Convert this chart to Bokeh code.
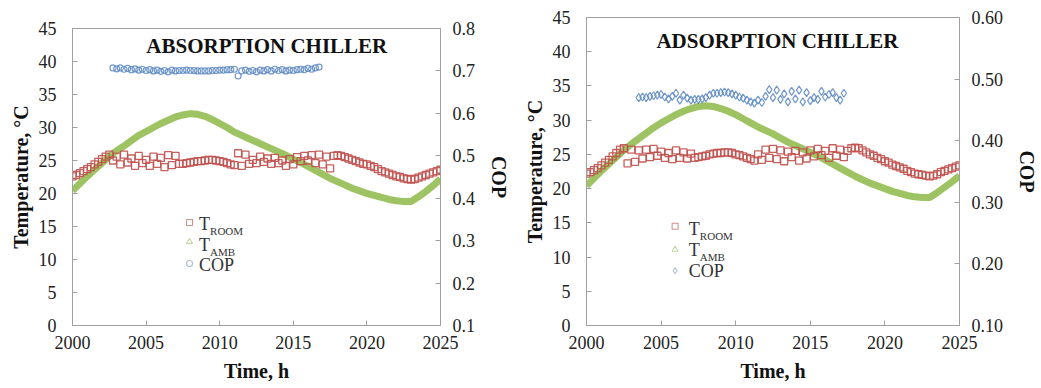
from bokeh.plotting import figure
from bokeh.models import Range1d, LinearAxis, FixedTicker, NumeralTickFormatter
from bokeh.layouts import row
from bokeh.core.properties import value
from bokeh.embed import file_html
from bokeh.resources import INLINE

SERIF = "Liberation Serif"

# ---------------- data ----------------
X_TICKS = [2000, 2005, 2010, 2015, 2020, 2025]
T_TICKS = [0, 5, 10, 15, 20, 25, 30, 35, 40, 45]
COP_TICKS_ABS = [0.1, 0.2, 0.3, 0.4, 0.5, 0.6, 0.7, 0.8]
COP_TICKS_ADS = [0.1, 0.2, 0.3, 0.4, 0.5, 0.6]

TIME_HALF = [2000.0, 2000.5, 2001.0, 2001.5, 2002.0, 2002.5, 2003.0, 2003.5, 2004.0, 2004.5,
             2005.0, 2005.5, 2006.0, 2006.5, 2007.0, 2007.5, 2008.0, 2008.5, 2009.0, 2009.5,
             2010.0, 2010.5, 2011.0, 2011.5, 2012.0, 2012.5, 2013.0, 2013.5, 2014.0, 2014.5,
             2015.0, 2015.5, 2016.0, 2016.5, 2017.0, 2017.5, 2018.0, 2018.5, 2019.0, 2019.5,
             2020.0, 2020.5, 2021.0, 2021.5, 2022.0, 2022.5, 2023.0, 2023.5, 2024.0, 2024.5,
             2025.0]

TIME_QUARTER = [2000.0, 2000.25, 2000.5, 2000.75, 2001.0, 2001.25, 2001.5, 2001.75,
                2002.0, 2002.25, 2002.5, 2002.75, 2003.0, 2003.25, 2003.5, 2003.75,
                2004.0, 2004.25, 2004.5, 2004.75, 2005.0, 2005.25, 2005.5, 2005.75,
                2006.0, 2006.25, 2006.5, 2006.75, 2007.0, 2007.25, 2007.5, 2007.75,
                2008.0, 2008.25, 2008.5, 2008.75, 2009.0, 2009.25, 2009.5, 2009.75,
                2010.0, 2010.25, 2010.5, 2010.75, 2011.0, 2011.25, 2011.5, 2011.75,
                2012.0, 2012.25, 2012.5, 2012.75, 2013.0, 2013.25, 2013.5, 2013.75,
                2014.0, 2014.25, 2014.5, 2014.75, 2015.0, 2015.25, 2015.5, 2015.75,
                2016.0, 2016.25, 2016.5, 2016.75, 2017.0, 2017.25, 2017.5, 2017.75,
                2018.0, 2018.25, 2018.5, 2018.75, 2019.0, 2019.25, 2019.5, 2019.75,
                2020.0, 2020.25, 2020.5, 2020.75, 2021.0, 2021.25, 2021.5, 2021.75,
                2022.0, 2022.25, 2022.5, 2022.75, 2023.0, 2023.25, 2023.5, 2023.75,
                2024.0, 2024.25, 2024.5, 2024.75, 2025.0]

# Absorption chiller
AMB_ABS = [20.4, 21.5, 22.6, 23.6, 24.6, 25.6, 26.5, 27.2, 28.0, 28.8,
           29.4, 30.0, 30.6, 31.1, 31.6, 31.9, 32.1, 32.0, 31.7, 31.2,
           30.6, 30.0, 29.3, 28.8, 28.3, 27.8, 27.3, 26.8, 26.3, 25.8,
           25.2, 24.7, 24.1, 23.5, 22.9, 22.3, 21.8, 21.3, 20.8, 20.4,
           20.0, 19.7, 19.4, 19.1, 18.9, 18.8, 18.8, 19.5, 20.3, 21.2,
           22.2]

ROOM_ABS = [22.6, 22.8, 23.1, 23.4, 23.7, 24.0, 24.4, 24.8,
            25.2, 25.6, 25.9, 25.0, 25.6, 24.4, 25.9, 24.7,
            25.3, 24.2, 25.7, 24.6, 25.1, 24.2, 25.6, 24.5,
            25.4, 24.0, 25.8, 24.3, 25.7, 24.5, 24.5, 24.6,
            24.7, 24.8, 24.9, 24.9, 25.0, 25.1, 25.1, 25.0,
            24.9, 24.8, 24.6, 24.4, 24.3, 26.1, 24.2, 25.9,
            24.5, 25.1, 24.6, 25.6, 24.8, 25.3, 24.5, 25.4,
            24.6, 25.0, 24.2, 25.2, 24.4, 25.5, 24.9, 25.7,
            25.0, 25.8, 24.6, 25.9, 24.4, 25.6, 23.8, 25.7,
            25.8, 25.7, 25.5, 25.3, 25.1, 24.9, 24.7, 24.5,
            24.4, 24.2, 24.0, 23.7, 23.4, 23.2, 23.0, 22.8,
            22.6, 22.5, 22.3, 22.2, 22.1, 22.2, 22.4, 22.6,
            22.8, 23.0, 23.2, 23.4, 23.6]

TIME_COP_ABS = TIME_QUARTER[11:68]   # 2002.75 .. 2016.75
COP_ABS = [0.707,
           0.705, 0.707, 0.704, 0.706, 0.703, 0.705, 0.702, 0.704,
           0.701, 0.703, 0.700, 0.702, 0.699, 0.701, 0.698, 0.702,
           0.700, 0.701, 0.701, 0.702, 0.701, 0.701, 0.700, 0.700,
           0.700, 0.700, 0.701, 0.701, 0.702, 0.702, 0.703, 0.703,
           0.704, 0.688, 0.700, 0.702, 0.699, 0.701, 0.698, 0.702,
           0.700, 0.703, 0.700, 0.704, 0.701, 0.703, 0.700, 0.702,
           0.701, 0.703, 0.704, 0.703, 0.706, 0.704, 0.707, 0.709]

# Adsorption chiller
AMB_ADS = [20.4, 21.5, 22.6, 23.6, 24.6, 25.6, 26.5, 27.3, 28.1, 28.9,
           29.6, 30.2, 30.8, 31.3, 31.7, 32.0, 32.1, 32.0, 31.7, 31.3,
           30.8, 30.2, 29.6, 29.0, 28.5, 28.0, 27.4, 26.8, 26.3, 25.8,
           25.3, 24.8, 24.2, 23.6, 23.0, 22.4, 21.8, 21.3, 20.8, 20.4,
           20.0, 19.6, 19.3, 19.0, 18.8, 18.7, 18.7, 19.4, 20.2, 21.0,
           21.9]

ROOM_ADS = [22.2, 22.4, 22.7, 23.0, 23.4, 23.8, 24.2, 24.7,
            25.2, 25.7, 25.9, 23.7, 25.7, 23.9, 25.6, 24.4,
            25.7, 24.6, 25.8, 24.8, 25.4, 24.5, 25.2, 24.3,
            25.6, 24.5, 25.3, 24.4, 25.1, 24.5, 24.6, 24.7,
            24.8, 25.0, 25.1, 25.2, 25.2, 25.3, 25.3, 25.2,
            25.0, 24.9, 24.7, 24.5, 24.3, 24.1, 25.0, 24.2,
            25.7, 24.5, 25.8, 24.3, 25.6, 24.0, 25.4, 24.6,
            25.5, 24.1, 25.3, 24.4, 25.6, 24.7, 25.8, 24.9,
            25.5, 24.5, 25.9, 24.8, 25.7, 24.6, 25.5, 25.9,
            26.0, 25.9, 25.6, 25.3, 25.0, 24.8, 24.5, 24.3,
            24.0, 23.8, 23.5, 23.3, 23.1, 22.9, 22.6, 22.4,
            22.2, 22.1, 22.0, 21.9, 21.8, 21.9, 22.1, 22.4,
            22.6, 22.8, 23.0, 23.2, 23.4]

TIME_COP_ADS = TIME_QUARTER[14:70]   # 2003.5 .. 2017.25
COP_ADS = [0.470, 0.471,
           0.470, 0.472, 0.473, 0.474, 0.475, 0.471, 0.468, 0.472,
           0.477, 0.466, 0.474, 0.469, 0.466, 0.467, 0.467, 0.468,
           0.470, 0.474, 0.477, 0.477, 0.478, 0.479, 0.478, 0.476,
           0.474, 0.471, 0.469, 0.466, 0.463, 0.461, 0.466, 0.462,
           0.472, 0.483, 0.470, 0.482, 0.467, 0.476, 0.463, 0.480,
           0.468, 0.482, 0.463, 0.478, 0.465, 0.470, 0.467, 0.480,
           0.471, 0.475, 0.478, 0.470, 0.466, 0.477]

LEGEND_MAIN = ["T", "T", "COP"]
LEGEND_SUB = ["ROOM", "AMB", ""]

RED = "#C0504D"
GREEN = "#98C05A"
BLUE = "#5B87C2"
AXIS_GRAY = "#A0A0A0"


def style_axis(ax, label, standoff, label_standoff):
    ax.axis_label = label
    ax.axis_line_color = AXIS_GRAY
    ax.major_tick_line_color = AXIS_GRAY
    ax.major_tick_in = 5
    ax.major_tick_out = 0
    ax.minor_tick_line_color = None
    ax.major_label_text_font = SERIF
    ax.major_label_text_font_size = "18px"
    ax.major_label_text_color = "#222222"
    ax.major_label_standoff = standoff
    ax.axis_label_text_font = SERIF
    ax.axis_label_text_font_size = "20px"
    ax.axis_label_text_font_style = "bold"
    ax.axis_label_text_color = "#111111"
    ax.axis_label_standoff = label_standoff


def make_panel(width, ml, mr, mt, title, title_xy, cop_range, cop_ticks, cop_fmt,
               amb, room, t_cop, cop, cop_marker, cop_size,
               leg_mx, leg_tx, leg_my, leg_ty):
    p = figure(width=width, height=388, x_range=Range1d(2000, 2025), y_range=Range1d(0, 45),
               output_backend="svg", toolbar_location=None,
               min_border_left=ml, min_border_right=mr, min_border_top=mt, min_border_bottom=63)
    p.frame_align = False
    p.extra_y_ranges = {"cop": Range1d(*cop_range)}
    p.xgrid.visible = False
    p.ygrid.visible = False
    p.outline_line_color = AXIS_GRAY
    p.background_fill_color = "white"
    p.border_fill_color = "white"

    p.xaxis.ticker = FixedTicker(ticks=X_TICKS)
    p.yaxis.ticker = FixedTicker(ticks=T_TICKS)
    style_axis(p.xaxis[0], "Time, h", 10, 8)
    style_axis(p.yaxis[0], "Temperature, °C", 16, 4)

    rax = LinearAxis(y_range_name="cop", ticker=FixedTicker(ticks=cop_ticks),
                     formatter=NumeralTickFormatter(format=cop_fmt))
    style_axis(rax, "COP", 12, 10)
    p.add_layout(rax, "right")

    # ambient temperature (dense triangles -> thick band)
    p.line(TIME_HALF, amb, line_width=7, line_color=GREEN, line_alpha=0.95)
    # room temperature
    p.scatter(TIME_QUARTER, room, marker="square", size=7, fill_color=None,
              line_color=RED, line_width=1.3, line_alpha=0.9)
    # COP
    p.scatter(t_cop, cop, marker=cop_marker, size=cop_size, fill_color=None,
              line_color=BLUE, line_width=1.2, line_alpha=0.85, y_range_name="cop")

    # title
    p.text(x=[title_xy[0]], y=[title_xy[1]], text=[title], text_font=value(SERIF),
           text_font_size=value("21px"), text_font_style=value("bold"),
           text_align="center", text_baseline="middle", text_color="#111111")

    # legend (manual, with subscripts)
    p.scatter([leg_mx], [leg_my[0]], marker="square", size=6, fill_color=None,
              line_color="#D09090", line_width=1.1)
    p.scatter([leg_mx], [leg_my[1]], marker="triangle", size=6, fill_color=None,
              line_color="#C5D8A5", line_width=1.1)
    p.scatter([leg_mx], [leg_my[2]], marker=cop_marker, size=6, fill_color=None,
              line_color="#B0BED2", line_width=1.1)
    p.text(x=[leg_tx] * 3, y=leg_ty, text=LEGEND_MAIN, text_font=value(SERIF),
           text_font_size=value("18px"), text_align="left", text_baseline="middle",
           text_color="#333333")
    p.text(x=[leg_tx] * 3, y=leg_ty, text=LEGEND_SUB, text_font=value(SERIF),
           text_font_size=value("11px"), text_align="left", text_baseline="middle",
           text_color="#333333", x_offset=11, y_offset=7)
    return p


p1 = make_panel(520, 72, 80, 28, "ABSORPTION CHILLER", (2013.2, 42.4),
                (0.1, 0.8), COP_TICKS_ABS, "0.0",
                AMB_ABS, ROOM_ABS, TIME_COP_ABS, COP_ABS, "circle", 6,
                2007.95, 2008.6, [15.6, 12.7, 9.4], [15.4, 12.2, 9.1])
p2 = make_panel(521, 63, 79, 17, "ADSORPTION CHILLER", (2012.8, 41.6),
                (0.1, 0.6), COP_TICKS_ADS, "0.00",
                AMB_ADS, ROOM_ADS, TIME_COP_ADS, COP_ADS, "diamond", 8,
                2005.94, 2006.86, [14.5, 11.1, 8.0], [14.1, 11.0, 8.0])

layout = row(p1, p2)
open("out.html", "w").write(file_html(layout, INLINE))
